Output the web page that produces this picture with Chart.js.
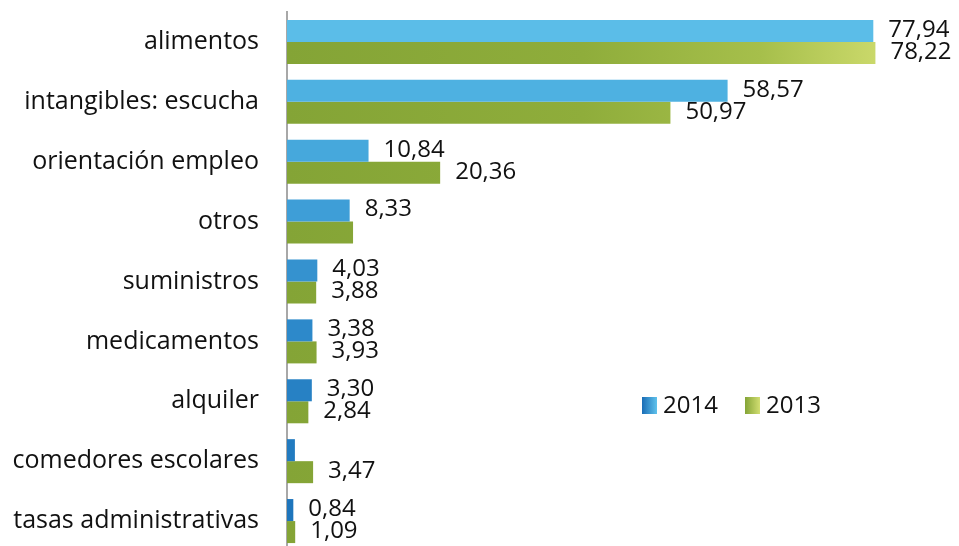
<!DOCTYPE html>
<html>
<head>
<meta charset="utf-8">
<script src="https://cdn.jsdelivr.net/npm/chart.js@4/dist/chart.umd.min.js"></script>
<style>
  html, body { margin: 0; padding: 0; background: #fff; overflow: hidden; }
  #wrap { width: 959px; height: 556px; }
</style>
</head>
<body>
<div id="wrap"><canvas id="chartGastos"></canvas></div>
<script>
const categorias = ['alimentos', 'intangibles: escucha', 'orientación empleo', 'otros', 'suministros',
  'medicamentos', 'alquiler', 'comedores escolares', 'tasas administrativas'];
const valores2014 = [77.94, 58.57, 10.84, 8.33, 4.03, 3.38, 3.30, 1.05, 0.84];
const valores2013 = [78.22, 50.97, 20.36, 8.78, 3.88, 3.93, 2.84, 3.47, 1.09];
// barras sin cifra en el original
const sinCifra2014 = ['comedores escolares'];
const sinCifra2013 = ['otros'];

const azules = ['#5bbde8', '#4eb1e1', '#46a8dc', '#3e9ed7', '#3592cf', '#2d89ca', '#2781c4', '#227bc0', '#1e75bc'];
const fuente = "'Open Sans', sans-serif";

function verde(context) {
  const chart = context.chart;
  const area = chart.chartArea;
  if (!area) return '#86a536';
  const g = chart.ctx.createLinearGradient(area.left, 0, area.left + 592, 0);
  g.addColorStop(0, '#84a436');
  g.addColorStop(0.5, '#8fad3b');
  g.addColorStop(0.8, '#a6bf4b');
  g.addColorStop(1, '#cbd96b');
  return g;
}

const cifras = {
  id: 'cifras',
  afterDatasetsDraw(chart) {
    const ctx = chart.ctx;
    ctx.save();
    ctx.font = '24px ' + fuente;
    ctx.fillStyle = '#111';
    ctx.textBaseline = 'middle';
    ctx.textAlign = 'left';
    chart.data.datasets.forEach((ds, i) => {
      const meta = chart.getDatasetMeta(i);
      const omitir = i === 0 ? sinCifra2014 : sinCifra2013;
      meta.data.forEach((bar, j) => {
        if (omitir.includes(categorias[j])) return;
        const txt = ds.data[j].toFixed(2).replace('.', ',');
        ctx.fillText(txt, bar.x + 15, bar.y - 1);
      });
    });
    ctx.restore();
  }
};

const leyenda = {
  id: 'leyenda',
  afterDraw(chart) {
    const ctx = chart.ctx;
    ctx.save();
    const items = [
      { texto: '2014', x: 642, c0: '#1a6db6', c1: '#5fc2ec' },
      { texto: '2013', x: 745, c0: '#84a436', c1: '#d2de72' }
    ];
    items.forEach(it => {
      const g = ctx.createLinearGradient(it.x, 0, it.x + 15, 0);
      g.addColorStop(0, it.c0);
      g.addColorStop(1, it.c1);
      ctx.fillStyle = g;
      ctx.fillRect(it.x, 397, 15, 17);
      ctx.fillStyle = '#111';
      ctx.font = '24px ' + fuente;
      ctx.textBaseline = 'middle';
      ctx.fillText(it.texto, it.x + 21, 406);
    });
    ctx.restore();
  }
};

const ctx = document.getElementById('chartGastos');

new Chart(ctx, {
  type: 'bar',
  data: {
    labels: categorias,
    datasets: [{
      label: '2014',
      data: valores2014,
      backgroundColor: azules,
      borderWidth: 0
    }, {
      label: '2013',
      data: valores2013,
      backgroundColor: verde,
      borderWidth: 0
    }]
  },
  options: {
    indexAxis: 'y',
    responsive: true,
    maintainAspectRatio: false,
    animation: false,
    layout: { padding: { top: 12, right: 4, bottom: 5, left: 0 } },
    datasets: { bar: { categoryPercentage: 0.735, barPercentage: 1.0 } },
    plugins: {
      legend: { display: false },
      tooltip: { enabled: false }
    },
    scales: {
      x: {
        display: false,
        min: 0,
        max: 88.8
      },
      y: {
        grid: { display: false },
        border: { display: true, color: '#a8a8a8', width: 2 },
        ticks: {
          color: '#111',
          padding: 20,
          font: { family: fuente, size: 25 }
        },
        afterFit(scale) {
          scale.width = 287;
          scale.paddingTop = 0;
          scale.paddingBottom = 0;
        }
      }
    }
  },
  plugins: [cifras, leyenda]
});
</script>
</body>
</html>
